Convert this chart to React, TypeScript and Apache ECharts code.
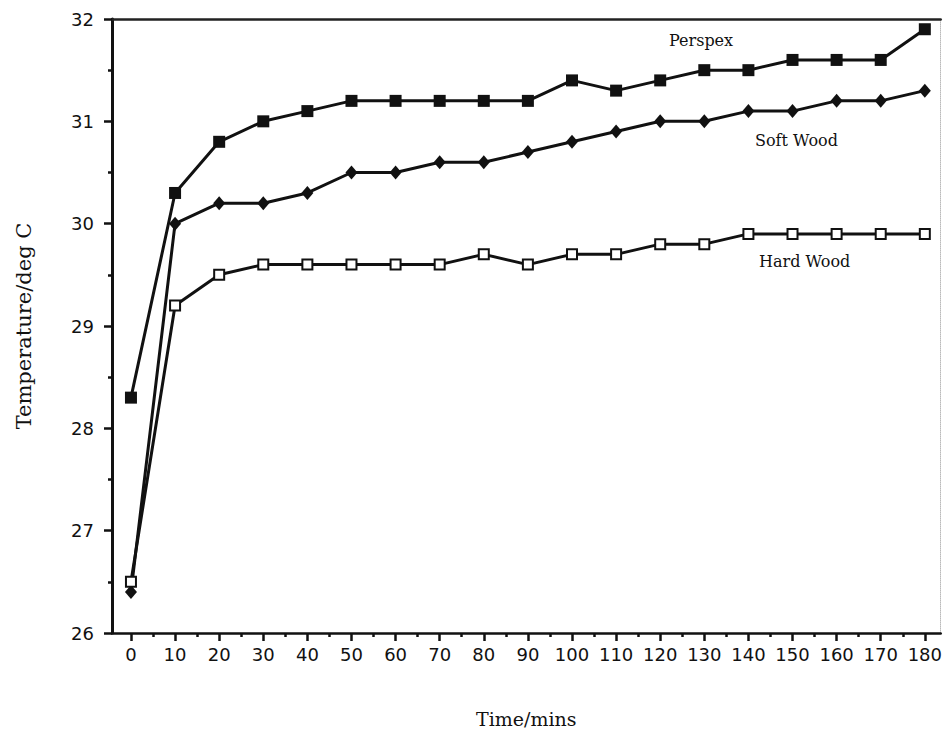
import React, { useEffect, useRef } from "react";
import * as echarts from "echarts";

const times = [0, 10, 20, 30, 40, 50, 60, 70, 80, 90, 100, 110, 120, 130, 140, 150, 160, 170, 180];
const perspex = [28.3, 30.3, 30.8, 31.0, 31.1, 31.2, 31.2, 31.2, 31.2, 31.2, 31.4, 31.3, 31.4, 31.5, 31.5, 31.6, 31.6, 31.6, 31.9];
const softWood = [26.4, 30.0, 30.2, 30.2, 30.3, 30.5, 30.5, 30.6, 30.6, 30.7, 30.8, 30.9, 31.0, 31.0, 31.1, 31.1, 31.2, 31.2, 31.3];
const hardWood = [26.5, 29.2, 29.5, 29.6, 29.6, 29.6, 29.6, 29.6, 29.7, 29.6, 29.7, 29.7, 29.8, 29.8, 29.9, 29.9, 29.9, 29.9, 29.9];
const majorXTicks = [0, 10, 20, 30, 40, 50, 60, 70, 80, 90, 100, 110, 120, 130, 140, 150, 160, 170, 180];
const minorXTicks = [5, 15, 25, 35, 45, 55, 65, 75, 85, 95, 105, 115, 125, 135, 145, 155, 165, 175];

const SANS = "'DejaVu Sans', Arial, sans-serif";
const SERIF = "'DejaVu Serif', 'Liberation Serif', serif";

export default function App() {
  const ref = useRef<HTMLDivElement>(null);
  useEffect(() => {
    document.body.style.margin = "0";
    const chart = echarts.init(ref.current!, null, { renderer: "svg" });
    const pair = (arr: number[]) => times.map((t, i) => [t, arr[i]]);
    const lineStyle = { color: "#111", width: 3 };
    chart.setOption({
      animation: false,
      backgroundColor: "#fff",
      grid: { left: 112, right: 3, top: 19, bottom: 101 },
      xAxis: [
        {
          type: "value",
          min: -4.3,
          max: 183.6,
          position: "bottom",
          name: "Time/mins",
          nameLocation: "middle",
          nameGap: 76,
          nameTextStyle: { fontFamily: SERIF, fontSize: 19, color: "#111" },
          axisLine: { show: true, onZero: false, lineStyle: { color: "#111", width: 2.5 } },
          axisTick: { show: true, customValues: majorXTicks, length: 8, lineStyle: { color: "#111", width: 2.5 } },
          axisLabel: { customValues: majorXTicks, margin: 12, fontFamily: SANS, fontSize: 18, color: "#111" },
          splitLine: { show: false },
        },
        {
          type: "value",
          min: -4.3,
          max: 183.6,
          position: "bottom",
          axisLine: { show: false },
          axisTick: { show: true, customValues: minorXTicks, length: 4, lineStyle: { color: "#111", width: 2.5 } },
          axisLabel: { show: false },
          splitLine: { show: false },
        },
        {
          type: "value",
          min: -4.3,
          max: 183.6,
          position: "top",
          axisLine: { show: true, onZero: false, lineStyle: { color: "#222", width: 2.5 } },
          axisTick: { show: false },
          axisLabel: { show: false },
          splitLine: { show: false },
        },
      ],
      yAxis: [
        {
          type: "value",
          min: 26,
          max: 32,
          interval: 1,
          name: "Temperature/deg C",
          nameLocation: "middle",
          nameGap: 78,
          nameTextStyle: { fontFamily: SERIF, fontSize: 21, color: "#111" },
          axisLine: { show: true, onZero: false, lineStyle: { color: "#111", width: 3 } },
          axisTick: { show: true, length: 8, lineStyle: { color: "#111", width: 2.5 } },
          minorTick: { show: true, splitNumber: 2, length: 4, lineStyle: { color: "#111", width: 2.5 } },
          axisLabel: { margin: 18, fontFamily: SANS, fontSize: 18, color: "#111" },
          splitLine: { show: false },
        },
        {
          type: "value",
          min: 26,
          max: 32,
          position: "right",
          axisLine: { show: true, onZero: false, lineStyle: { color: "#bbb", width: 1, type: "dotted" } },
          axisTick: { show: false },
          axisLabel: { show: false },
          splitLine: { show: false },
        },
      ],
      series: [
        {
          name: "Perspex",
          type: "line",
          data: pair(perspex),
          symbol: "rect",
          symbolSize: 12,
          itemStyle: { color: "#111" },
          lineStyle,
          z: 3,
        },
        {
          name: "Soft Wood",
          type: "line",
          data: pair(softWood),
          symbol: "diamond",
          symbolSize: [12, 14],
          itemStyle: { color: "#111" },
          lineStyle,
          z: 3,
        },
        {
          name: "Hard Wood",
          type: "line",
          data: pair(hardWood),
          symbol: "emptyRect",
          symbolSize: 10,
          itemStyle: { color: "#111", borderColor: "#111", borderWidth: 2.5 },
          lineStyle,
          z: 3,
        },
      ],
      graphic: [
        { type: "text", left: 669, top: 32, style: { text: "Perspex", font: `16px ${SERIF}`, fill: "#111" } },
        { type: "text", left: 755, top: 132, style: { text: "Soft Wood", font: `16px ${SERIF}`, fill: "#111" } },
        { type: "text", left: 759, top: 253, style: { text: "Hard Wood", font: `16px ${SERIF}`, fill: "#111" } },
      ],
    });
    return () => chart.dispose();
  }, []);
  return <div ref={ref} style={{ width: 945, height: 734 }} />;
}
